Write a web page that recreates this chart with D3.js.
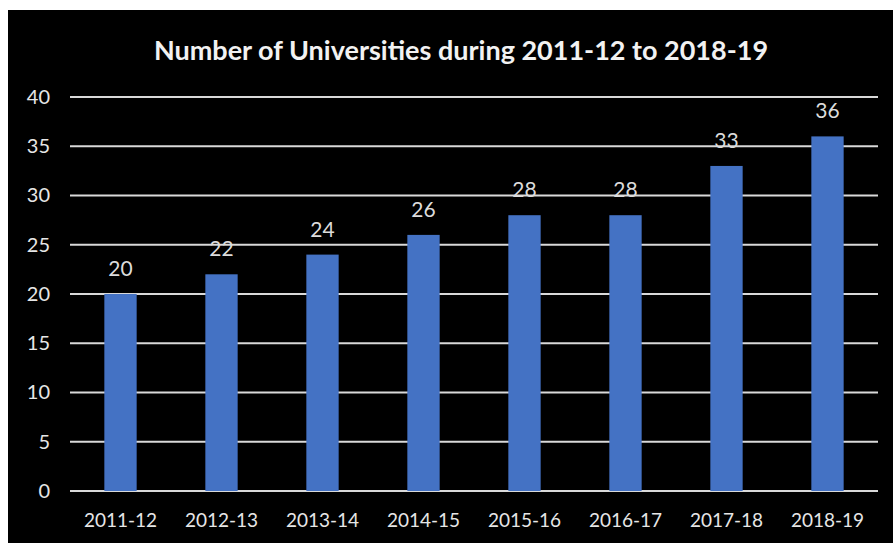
<!DOCTYPE html>
<html>
<head>
<meta charset="utf-8">
<script src="https://cdn.jsdelivr.net/npm/d3@7"></script>
<style>
    body { margin: 0; background: #ffffff; }
    svg { display: block; }
</style>
</head>
<body>
<script>
const years = ['2011-12', '2012-13', '2013-14', '2014-15', '2015-16', '2016-17', '2017-18', '2018-19'];
const universities = [20, 22, 24, 26, 28, 28, 33, 36];
const yTicks = [0, 5, 10, 15, 20, 25, 30, 35, 40];

const width = 893;
const height = 543;
const marginLeft = 70;
const marginRight = 15;
const marginTop = 97;
const marginBottom = 52;
const font = 'Lato, "Open Sans", sans-serif';

const svg = d3.select('body')
    .append('svg')
    .attr('width', width)
    .attr('height', height);

// black chart area, white strip on top and left
svg.append('rect')
    .attr('x', 8)
    .attr('y', 10)
    .attr('width', width - 8)
    .attr('height', height - 10)
    .attr('fill', '#000');

const x = d3.scaleBand()
    .domain(years)
    .range([marginLeft, width - marginRight])
    .paddingInner(0.68)
    .paddingOuter(0.34);

const y = d3.scaleLinear()
    .domain([0, 40])
    .range([height - marginBottom, marginTop]);

// horizontal grid lines
svg.selectAll('line.grid')
    .data(yTicks)
    .enter()
    .append('line')
    .attr('class', 'grid')
    .attr('x1', marginLeft)
    .attr('x2', width - marginRight)
    .attr('y1', d => y(d))
    .attr('y2', d => y(d))
    .attr('stroke', '#d9d9d9')
    .attr('stroke-width', 2);

// y axis labels
const yAxis = svg.append('g')
    .attr('transform', `translate(${marginLeft - 2},0)`)
    .call(d3.axisLeft(y).tickValues(yTicks).tickSize(0).tickPadding(18));
yAxis.select('.domain').remove();
yAxis.selectAll('text')
    .attr('fill', '#e6e6e6')
    .style('font-family', font)
    .style('font-size', '20px');

// x axis labels
const xAxis = svg.append('g')
    .attr('transform', `translate(0,${height - marginBottom})`)
    .call(d3.axisBottom(x).tickSize(0).tickPadding(23));
xAxis.select('.domain').remove();
xAxis.selectAll('text')
    .attr('fill', '#e6e6e6')
    .style('font-family', font)
    .style('font-size', '19px');

// bars
svg.selectAll('rect.bar')
    .data(universities)
    .enter()
    .append('rect')
    .attr('class', 'bar')
    .attr('x', (d, i) => x(years[i]))
    .attr('width', x.bandwidth())
    .attr('y', d => y(d))
    .attr('height', d => y(0) - y(d))
    .attr('fill', '#4472c4');

// value labels
svg.selectAll('text.value')
    .data(universities)
    .enter()
    .append('text')
    .attr('class', 'value')
    .attr('x', (d, i) => x(years[i]) + x.bandwidth() / 2)
    .attr('y', d => y(d) - 18)
    .attr('text-anchor', 'middle')
    .attr('fill', '#dcdcdc')
    .style('font-family', font)
    .style('font-size', '21px')
    .text(d => d);

// title
svg.append('text')
    .attr('x', 461)
    .attr('y', 60)
    .attr('text-anchor', 'middle')
    .attr('fill', '#f2f2f2')
    .style('font-family', font)
    .style('font-weight', 'bold')
    .style('font-size', '27px')
    .text('Number of Universities during 2011-12 to 2018-19');
</script>
</body>
</html>
